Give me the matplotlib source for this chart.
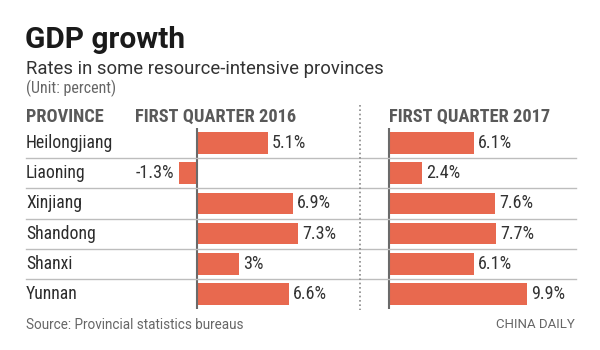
import matplotlib
matplotlib.use("Agg")
import matplotlib.pyplot as plt
from matplotlib.lines import Line2D
from matplotlib.transforms import blended_transform_factory

provinces = ["Heilongjiang", "Liaoning", "Xinjiang", "Shandong", "Shanxi", "Yunnan"]
q1_2016 = [5.1, -1.3, 6.9, 7.3, 3, 6.6]
q1_2017 = [6.1, 2.4, 7.6, 7.7, 6.1, 9.9]
headers = ["PROVINCE", "FIRST QUARTER 2016", "FIRST QUARTER 2017"]

W, H = 600, 350
BAR = "#E8694F"
COND = ["Roboto Condensed", "DejaVu Sans"]
plt.rcParams["font.family"] = ["Roboto", "DejaVu Sans"]

fig = plt.figure(figsize=(6, 3.5), dpi=100)
fig.patch.set_facecolor("white")

def fx(px):
    return px / W

def fy(py):
    return 1 - py / H

pxu = 13.9
row0, pitch = 143.0, 30.2
top_px = row0 - pitch / 2
bot_px = row0 + pitch * 5.5
xmin = -2.0
left_zero, right_zero = 197.0, 389.0

def make_ax(zero_px, xmax_):
    l = zero_px + xmin * pxu
    w = (xmax_ - xmin) * pxu
    ax = fig.add_axes([fx(l), fy(bot_px), fx(w), (bot_px - top_px) / H])
    ax.set_xlim(xmin, xmax_)
    ax.set_ylim(len(provinces) - 0.5, -0.5)
    ax.axis("off")
    return ax

axL = make_ax(left_zero, 8.0)
axR = make_ax(right_zero, 12.0)

value_texts = []
ypos = list(range(len(provinces)))
for ax, vals in ((axL, q1_2016), (axR, q1_2017)):
    ax.barh(ypos, vals, height=0.72, color=BAR, zorder=2)
    ax.axvline(0, color="#6a6a6a", lw=1.5, zorder=3)
    for i, v in enumerate(vals):
        off = 3 if v >= 0 else -3.5
        t = ax.annotate(f"{v:g}%", xy=(v, i), xytext=(off, 0), textcoords="offset points",
                        ha="left" if v >= 0 else "right", va="center",
                        fontsize=13, color="#333333", family=COND, annotation_clip=False)
        value_texts.append(t)

tr = blended_transform_factory(fig.transFigure, axL.transData)
for i in range(len(provinces) - 1):
    fig.add_artist(Line2D([fx(26), fx(576)], [i + 0.5, i + 0.5], transform=tr,
                          color="#bdbdbd", lw=1.0, zorder=1))
prov_texts = []
for i, p in enumerate(provinces):
    prov_texts.append(fig.text(fx(26), i, p, transform=tr, ha="left", va="center",
                               fontsize=13.5, color="#2b2b2b", family=COND))

fig.add_artist(Line2D([fx(360), fx(360)], [fy(105), fy(310)], color="#8a8a8a",
                      lw=1.2, linestyle=(0, (1, 1.6))))

hdr_texts = []
for x, t in zip((26, 135, 389), headers):
    hdr_texts.append(fig.text(fx(x), fy(122), t, ha="left", va="baseline", fontsize=13.5,
                              fontweight="bold", color="#595959", family=COND))

title = fig.text(fx(25), fy(48.3), "GDP growth", ha="left", va="baseline", fontsize=21,
                 fontweight="bold", color="#1a1a1a")
sub = fig.text(fx(26), fy(73.5), "Rates in some resource-intensive provinces", ha="left",
               va="baseline", fontsize=13.4, color="#333333")
unit = fig.text(fx(26), fy(93), "(Unit: percent)", ha="left", va="baseline",
                fontsize=10.5, color="#666666", family=COND)
src = fig.text(fx(26), fy(329), "Source: Provincial statistics bureaus", ha="left",
               va="baseline", fontsize=9.8, color="#666666")
cd = fig.text(fx(575), fy(328.5), "CHINA DAILY", ha="right", va="baseline",
              fontsize=9.6, color="#666666")

# fit font sizes so the text widths match the reference widths (pixels)
fig.canvas.draw()
r = fig.canvas.get_renderer()

def fit(ref, group, target):
    w = ref.get_window_extent(r).width
    s = ref.get_fontsize() * target / w
    for t in group:
        t.set_fontsize(s)

fit(title, [title], 160)
fit(sub, [sub], 357)
fit(unit, [unit], 91)
fit(src, [src], 219)
fit(cd, [cd], 79)
fit(prov_texts[0], prov_texts, 87)
fit(hdr_texts[1], hdr_texts, 162)
fit(value_texts[0], value_texts, 34)

fig.savefig("out.png", dpi=100, facecolor="white")
